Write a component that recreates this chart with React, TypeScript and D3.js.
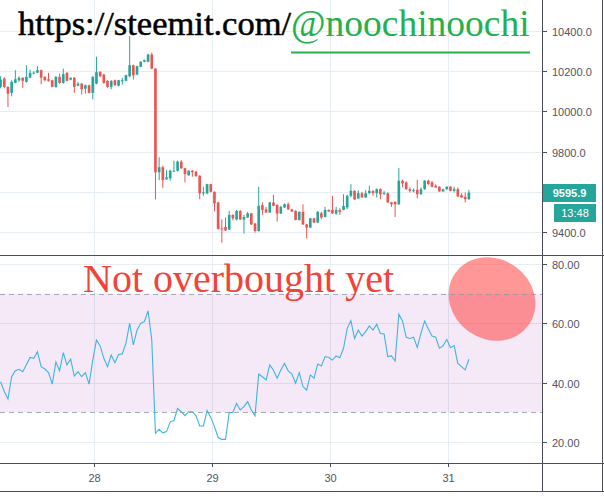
import React from 'react';
import * as d3 from 'd3';

const W = 604;
const H = 496;

// 45 minute candles, first one Oct 27 2019 05:00
const startTime = new Date(2019, 9, 27, 5, 0);
const intervalMinutes = 45;

const opens = [
  10122, 10163, 10122, 10092, 10142, 10155, 10167, 10147, 10168, 10190,
  10192, 10205, 10172, 10160, 10155, 10122, 10172, 10142, 10192, 10158,
  10168, 10128, 10138, 10113, 10130, 10092, 10138, 10197, 10183, 10152,
  10122, 10155, 10128, 10152, 10152, 10175, 10230, 10183, 10222, 10247,
  10247, 10283, 10213, 9697, 9722, 9662, 9667, 9702, 9705, 9750,
  9717, 9682, 9705, 9700, 9680, 9592, 9592, 9638, 9600, 9547,
  9418, 9425, 9412, 9485, 9462, 9505, 9462, 9472, 9493, 9442,
  9405, 9533, 9513, 9497, 9547, 9535, 9492, 9522, 9538, 9513,
  9505, 9460, 9500, 9438, 9422, 9468, 9447, 9493, 9475, 9510,
  9510, 9492, 9510, 9510, 9522, 9580, 9605, 9567, 9592, 9572,
  9593, 9605, 9593, 9613, 9590, 9593, 9547, 9550, 9538, 9655,
  9647, 9613, 9605, 9610, 9588, 9613, 9655, 9647, 9630, 9625,
  9602, 9613, 9625, 9605, 9613, 9583, 9575, 9563,
];
const highs = [
  10175, 10170, 10125, 10155, 10205, 10175, 10170, 10230, 10208, 10200,
  10225, 10208, 10175, 10192, 10158, 10175, 10188, 10213, 10195, 10170,
  10170, 10147, 10140, 10133, 10133, 10175, 10272, 10200, 10188, 10155,
  10155, 10158, 10157, 10167, 10183, 10375, 10233, 10228, 10250, 10258,
  10287, 10293, 10215, 9772, 9730, 9708, 9710, 9755, 9755, 9758,
  9720, 9707, 9708, 9705, 9682, 9625, 9640, 9640, 9602, 9550,
  9463, 9472, 9505, 9488, 9510, 9508, 9485, 9500, 9495, 9445,
  9625, 9547, 9525, 9550, 9585, 9537, 9530, 9542, 9547, 9515,
  9508, 9503, 9538, 9440, 9470, 9470, 9505, 9500, 9525, 9512,
  9580, 9525, 9518, 9588, 9585, 9638, 9608, 9608, 9600, 9608,
  9630, 9607, 9617, 9617, 9605, 9597, 9550, 9552, 9718, 9660,
  9652, 9622, 9617, 9660, 9622, 9658, 9660, 9655, 9638, 9628,
  9615, 9628, 9628, 9625, 9622, 9593, 9597, 9610,
];
const lows = [
  10115, 10115, 10022, 10075, 10140, 10147, 10117, 10143, 10165, 10185,
  10190, 10135, 10150, 10148, 10120, 10118, 10138, 10138, 10150, 10155,
  10093, 10125, 10083, 10088, 10090, 10060, 10135, 10170, 10138, 10118,
  10110, 10127, 10125, 10133, 10150, 10170, 10158, 10180, 10220, 10245,
  10245, 10210, 9562, 9658, 9618, 9660, 9655, 9700, 9700, 9715,
  9647, 9680, 9675, 9675, 9563, 9580, 9588, 9597, 9502, 9412,
  9347, 9405, 9410, 9458, 9458, 9460, 9392, 9470, 9435, 9397,
  9402, 9485, 9495, 9495, 9528, 9452, 9490, 9520, 9510, 9500,
  9458, 9457, 9435, 9368, 9420, 9445, 9445, 9463, 9472, 9500,
  9490, 9485, 9485, 9508, 9513, 9572, 9560, 9565, 9570, 9570,
  9588, 9580, 9572, 9563, 9583, 9545, 9525, 9475, 9535, 9622,
  9610, 9597, 9597, 9567, 9585, 9610, 9635, 9622, 9620, 9600,
  9600, 9608, 9603, 9597, 9575, 9570, 9547, 9560,
];
const closes = [
  10158, 10122, 10088, 10147, 10160, 10167, 10152, 10172, 10192, 10193,
  10205, 10168, 10155, 10152, 10122, 10172, 10142, 10185, 10152, 10167,
  10122, 10138, 10110, 10130, 10092, 10172, 10195, 10175, 10142, 10122,
  10152, 10130, 10155, 10155, 10180, 10230, 10180, 10225, 10247, 10255,
  10283, 10213, 9697, 9722, 9658, 9672, 9705, 9705, 9750, 9717,
  9688, 9705, 9698, 9678, 9592, 9597, 9638, 9600, 9542, 9415,
  9413, 9408, 9485, 9468, 9505, 9462, 9475, 9493, 9438, 9405,
  9530, 9510, 9497, 9547, 9530, 9492, 9525, 9538, 9513, 9502,
  9460, 9500, 9438, 9422, 9468, 9447, 9500, 9472, 9510, 9502,
  9492, 9510, 9500, 9530, 9580, 9605, 9562, 9593, 9572, 9593,
  9605, 9593, 9613, 9588, 9595, 9547, 9538, 9538, 9655, 9642,
  9613, 9605, 9608, 9588, 9613, 9655, 9638, 9625, 9622, 9602,
  9613, 9625, 9605, 9613, 9577, 9572, 9563, 9596,
];
const rsiValues = [
  40.3, 37, 34.5, 42, 44, 44.5, 43.7, 46, 48.5, 48.2,
  50.4, 45.4, 44.6, 43.4, 39.5, 47, 44, 50.1, 46, 47.9,
  42.2, 43.7, 42, 43.4, 39.5, 47.6, 54.4, 52.4, 48.2, 45.4,
  49.3, 46.7, 49.5, 49.7, 53.3, 60, 52.7, 57.7, 60, 60.6,
  64.2, 54.4, 22.9, 24.3, 23.1, 23.5, 26.8, 27.2, 31.3, 30.2,
  28.9, 30.2, 30.2, 28.8, 25.4, 25.4, 30.6, 28.3, 25.2, 21.5,
  20.9, 20.9, 29.9, 30, 33, 30.8, 31.9, 33.6, 30.8, 28.8,
  42.9, 42, 40.9, 46, 44.2, 41.5, 44.3, 46.5, 44, 42.9,
  39.8, 43.4, 38.7, 37.5, 42.6, 41.5, 46.3, 45.6, 48.8, 48.5,
  47.6, 49, 48.4, 51.6, 58.3, 60.9, 54.9, 57.7, 55.7, 57.2,
  59.1, 57.7, 59.7, 56.6, 56.4, 48.8, 49, 47.3, 63.1, 60.8,
  55.3, 54.9, 55.3, 51.9, 56.6, 60.8, 58.1, 55.7, 55.3, 51.6,
  52.4, 54.6, 51.8, 52.5, 46.5, 45.4, 44.3, 47.9,
];

const priceTicks = [9400, 9600, 9800, 10000, 10200, 10400];
const rsiTicks = [20, 40, 60, 80];
const rsiBand = [30, 70];
const dayTicks = [28, 29, 30, 31];
const lastPrice = 9595.9;
const countdown = '13:48';

const UP = '#26a69a';
const DOWN = '#ef5350';
const GRID = '#e6edf3';
const AXIS = '#4a4e59';
const LABEL = '#50535e';

const AXIS_X = 543;
const PANE_SPLIT = 256;
const TIME_AXIS_Y = 464;

export default function App() {
  const x = d3
    .scaleTime()
    .domain([new Date(2019, 9, 28), new Date(2019, 9, 31)])
    .range([94, 448]);
  const yPrice = d3.scaleLinear().domain([9400, 10400]).range([232, 31]);
  const yRsi = d3.scaleLinear().domain([20, 80]).range([442, 264]);

  const times = closes.map((_, i) => d3.timeMinute.offset(startTime, i * intervalMinutes));
  const step = x(times[1]) - x(times[0]);
  const bodyW = step * 0.72;

  const rsiLine = d3
    .line<number>()
    .x((_, i) => x(times[i]))
    .y(d => yRsi(d));

  const font = '"Liberation Sans", Arial, sans-serif';
  const serif = '"Liberation Serif", "Times New Roman", serif';

  return (
    <svg
      width={W}
      height={H}
      style={{ position: 'fixed', left: 0, top: 0, background: '#fff' }}
    >
      <defs>
        <clipPath id="pricePane">
          <rect x={0} y={0} width={AXIS_X} height={PANE_SPLIT} />
        </clipPath>
        <clipPath id="rsiPane">
          <rect x={0} y={PANE_SPLIT} width={AXIS_X} height={TIME_AXIS_Y - PANE_SPLIT} />
        </clipPath>
      </defs>

      {/* grids */}
      {dayTicks.map(d => {
        const gx = Math.round(x(new Date(2019, 9, d))) + 0.5;
        return <line key={'vg' + d} x1={gx} x2={gx} y1={0} y2={TIME_AXIS_Y} stroke={GRID} />;
      })}
      {priceTicks.map(p => {
        const gy = Math.round(yPrice(p)) + 0.5;
        return <line key={'pg' + p} x1={0} x2={AXIS_X} y1={gy} y2={gy} stroke={GRID} />;
      })}
      {rsiTicks.map(r => {
        const gy = Math.round(yRsi(r)) + 0.5;
        return <line key={'rg' + r} x1={0} x2={AXIS_X} y1={gy} y2={gy} stroke={GRID} />;
      })}

      {/* candles */}
      <g clipPath="url(#pricePane)">
        {closes.map((c, i) => {
          const o = opens[i];
          const cx = x(times[i]);
          const col = c >= o ? UP : DOWN;
          const top = yPrice(Math.max(o, c));
          const bot = yPrice(Math.min(o, c));
          return (
            <g key={i}>
              <rect
                x={cx - 0.5}
                y={yPrice(highs[i])}
                width={1}
                height={yPrice(lows[i]) - yPrice(highs[i])}
                fill={col}
              />
              <rect
                x={cx - bodyW / 2}
                y={top}
                width={bodyW}
                height={Math.max(1, bot - top)}
                fill={col}
              />
            </g>
          );
        })}
      </g>

      {/* RSI pane */}
      <g clipPath="url(#rsiPane)">
        <rect
          x={0}
          y={yRsi(rsiBand[1])}
          width={AXIS_X}
          height={yRsi(rsiBand[0]) - yRsi(rsiBand[1])}
          fill="#9c27b0"
          fillOpacity={0.1}
        />
        <ellipse
          cx={492}
          cy={299}
          rx={45}
          ry={40}
          transform="rotate(35 492 299)"
          fill="#ff5252"
          fillOpacity={0.6}
        />
        {rsiBand.map(r => {
          const gy = Math.round(yRsi(r)) + 0.5;
          return (
            <line
              key={'band' + r}
              x1={0}
              x2={AXIS_X}
              y1={gy}
              y2={gy}
              stroke="#9598a1"
              strokeOpacity={0.8}
              strokeDasharray="5,4"
            />
          );
        })}
        <path d={rsiLine(rsiValues) as string} fill="none" stroke="#3fb3e0" strokeWidth={1.1} />
      </g>

      {/* frame */}
      <line x1={0} x2={W} y1={PANE_SPLIT - 0.5} y2={PANE_SPLIT - 0.5} stroke={AXIS} />
      <line x1={0} x2={W} y1={TIME_AXIS_Y - 0.5} y2={TIME_AXIS_Y - 0.5} stroke={AXIS} />
      <line x1={0} x2={W} y1={491.5} y2={491.5} stroke={AXIS} />
      <line x1={AXIS_X - 0.5} x2={AXIS_X - 0.5} y1={0} y2={492} stroke={AXIS} />
      <line x1={602.5} x2={602.5} y1={0} y2={492} stroke={AXIS} />

      {/* price axis */}
      {priceTicks.map(p => {
        const gy = Math.round(yPrice(p)) + 0.5;
        return (
          <g key={'pt' + p}>
            <line x1={AXIS_X} x2={AXIS_X + 4} y1={gy} y2={gy} stroke={AXIS} />
            <text x={552} y={gy + 4} fontFamily={font} fontSize={11} fill={LABEL}>
              {d3.format('.1f')(p)}
            </text>
          </g>
        );
      })}
      <rect x={AXIS_X} y={184} width={53} height={18} fill={UP} />
      <text
        x={AXIS_X + 26.5}
        y={197}
        textAnchor="middle"
        fontFamily={font}
        fontSize={11}
        fontWeight="bold"
        fill="#fff"
      >
        {d3.format('.1f')(lastPrice)}
      </text>
      <rect x={554} y={204} width={42} height={18} fill={UP} />
      <text x={575} y={217} textAnchor="middle" fontFamily={font} fontSize={11} fill="#fff">
        {countdown}
      </text>

      {/* rsi axis */}
      {rsiTicks.map(r => {
        const gy = Math.round(yRsi(r)) + 0.5;
        return (
          <g key={'rt' + r}>
            <line x1={AXIS_X} x2={AXIS_X + 4} y1={gy} y2={gy} stroke={AXIS} />
            <text x={552} y={gy + 4} fontFamily={font} fontSize={11} fill={LABEL}>
              {d3.format('.2f')(r)}
            </text>
          </g>
        );
      })}

      {/* time axis */}
      {dayTicks.map(d => {
        const tx = Math.round(x(new Date(2019, 9, d))) + 0.5;
        return (
          <g key={'tt' + d}>
            <line x1={tx} x2={tx} y1={TIME_AXIS_Y} y2={TIME_AXIS_Y + 3} stroke={AXIS} />
            <text x={tx} y={482} textAnchor="middle" fontFamily={font} fontSize={11} fill={LABEL}>
              {d}
            </text>
          </g>
        );
      })}

      {/* annotations */}
      <text
        x={18}
        y={35}
        fontFamily={serif}
        fontSize={34.5}
        fill="#000"
        stroke="#000"
        strokeWidth={0.5}
      >
        https://steemit.com/
      </text>
      <text x={291} y={36} fontFamily={serif} fontSize={37.5} fill="#22b14c">
        @noochinoochi
      </text>
      <line x1={291} x2={530} y1={52.5} y2={52.5} stroke="#22b14c" strokeWidth={2} />
      <text x={83} y={292} fontFamily={serif} fontSize={40} fill="#f2433a">
        Not overbought yet
      </text>
    </svg>
  );
}
